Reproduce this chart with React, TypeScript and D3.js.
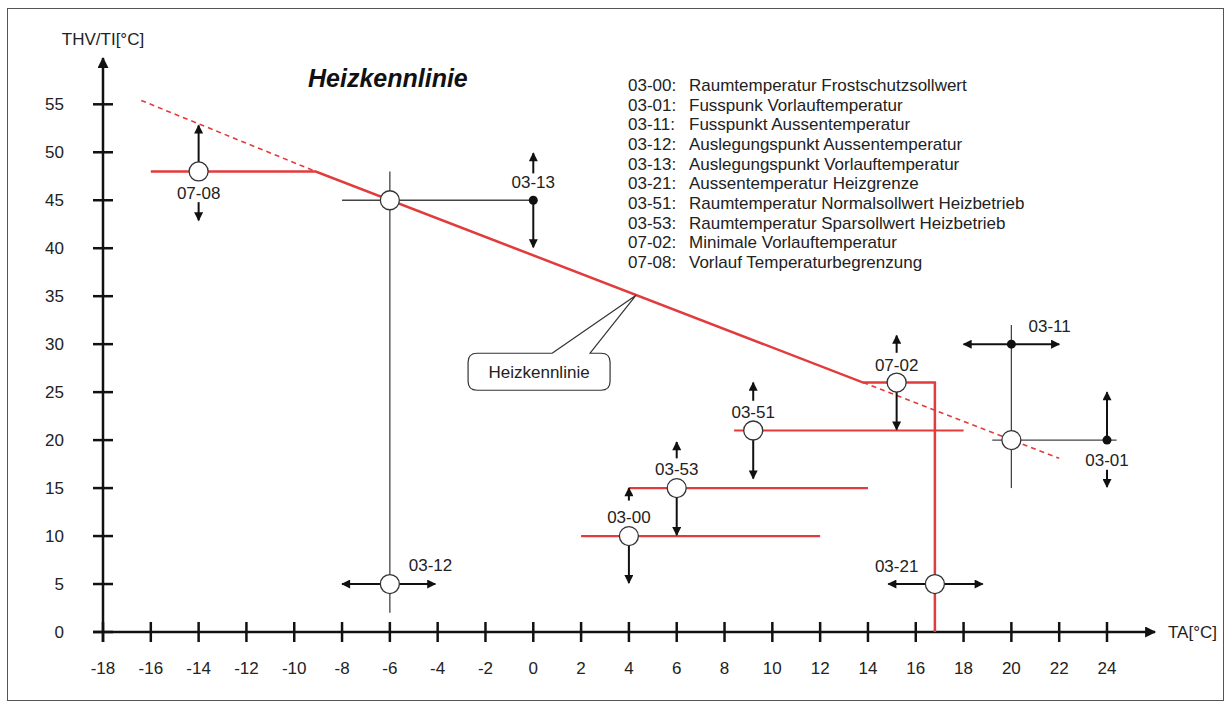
import React from 'react';
import * as d3 from 'd3';

// axis ticks
const xTicks = d3.range(-18, 25, 2);
const yTicks = d3.range(0, 56, 5);

// legend
const legendCodes = ['03-00:', '03-01:', '03-11:', '03-12:', '03-13:', '03-21:', '03-51:', '03-53:', '07-02:', '07-08:'];
const legendTexts = [
    'Raumtemperatur Frostschutzsollwert',
    'Fusspunk Vorlauftemperatur',
    'Fusspunkt Aussentemperatur',
    'Auslegungspunkt Aussentemperatur',
    'Auslegungspunkt Vorlauftemperatur',
    'Aussentemperatur Heizgrenze',
    'Raumtemperatur Normalsollwert Heizbetrieb',
    'Raumtemperatur Sparsollwert Heizbetrieb',
    'Minimale Vorlauftemperatur',
    'Vorlauf Temperaturbegrenzung',
];

// heating curve (TA, THV)
const curveTA = [-16, -9.1, 13.8, 16.8, 16.8];
const curveT = [48, 48, 26, 26, 0];
const dashUpperTA = [-16.4, -9.1];
const dashUpperT = [55.4, 48];
const dashLowerTA = [13.8, 22];
const dashLowerT = [26, 18.1];

// room setpoint lines: [fromTA, toTA, T]
const setpointLines = [
    [8.4, 18, 21],
    [4, 14, 15],
    [2, 12, 10],
];

// thin crosshair lines [ta1, t1, ta2, t2]
const guideLines = [
    [-8, 45, 0, 45],
    [-6, 48, -6, 2],
    [20, 32, 20, 15],
    [19.2, 20, 24.4, 20],
];

// open circles
const circleTA = [-14, -6, -6, 4, 6, 9.2, 15.2, 16.8, 20];
const circleT = [48, 45, 5, 10, 15, 21, 26, 5, 20];

// filled dots
const dotTA = [0, 20, 24];
const dotT = [45, 30, 20];

// arrows [ta1, t1, ta2, t2]
const arrows = [
    [-14, 48, -14, 52.8],
    [-14, 44.8, -14, 42.9],
    [0, 47.8, 0, 49.9],
    [0, 45, 0, 40.1],
    [-6, 5, -8, 5],
    [-6, 5, -4.1, 5],
    [4, 13.7, 4, 15],
    [4, 10, 4, 5.1],
    [6, 18.1, 6, 19.8],
    [6, 15, 6, 10.1],
    [9.2, 24.1, 9.2, 26],
    [9.2, 21, 9.2, 16],
    [15.2, 29.1, 15.2, 30.9],
    [15.2, 26, 15.2, 21.1],
    [16.8, 5, 14.85, 5],
    [16.8, 5, 18.8, 5],
    [20, 30, 18, 30],
    [20, 30, 22, 30],
    [24, 20, 24, 25],
    [24, 16.9, 24, 15.1],
];

// parameter labels
const labelNames = ['07-08', '03-13', '03-12', '03-00', '03-53', '03-51', '07-02', '03-21', '03-11', '03-01'];
const labelTA = [-14, 0, -4.3, 4, 6, 9.2, 15.2, 15.2, 21.6, 24];
const labelT = [45.75, 46.9, 7.0, 12.0, 17.0, 22.9, 27.8, 6.9, 31.9, 17.9];

// callout tip on the curve
const calloutTA = 4.3;
const calloutT = 35.1;

const RED = '#e23b3b';
const FONT = '"Liberation Sans", Arial, sans-serif';

const App = () => {
    const width = 1232;
    const height = 707;

    const x = d3.scaleLinear().domain([-18, 24]).range([103, 1107]);
    const y = d3.scaleLinear().domain([0, 55]).range([632, 104.3]);

    const line = d3
        .line<number>()
        .x((d) => x(d));

    const pathOf = (tas: number[], ts: number[]) =>
        d3
            .line<number>()
            .x((_, i) => x(tas[i]))
            .y((_, i) => y(ts[i]))(tas) || '';

    const x0 = x(-18);
    const y0 = y(0);

    const tipX = x(calloutTA);
    const tipY = y(calloutT);
    const bx = tipX - 168;
    const by = tipY + 58;
    const bw = 142;
    const bh = 37;
    const r = 9;
    const callout = `M ${tipX - 84} ${by} L ${bx + r} ${by} Q ${bx} ${by} ${bx} ${by + r}
        L ${bx} ${bh + by - r} Q ${bx} ${by + bh} ${bx + r} ${by + bh}
        L ${bx + bw - r} ${by + bh} Q ${bx + bw} ${by + bh} ${bx + bw} ${by + bh - r}
        L ${bx + bw} ${by + r} Q ${bx + bw} ${by} ${bx + bw - r} ${by}
        L ${tipX - 46} ${by} L ${tipX} ${tipY} L ${tipX - 84} ${by}`;

    return (
        <svg width={width} height={height} style={{ position: 'absolute', left: 0, top: 0, background: '#fff' }} fontFamily={FONT}>
            <defs>
                <marker id="ah" viewBox="0 0 10 10" refX="9" refY="5" markerWidth="10" markerHeight="9" markerUnits="userSpaceOnUse" orient="auto">
                    <path d="M0,0 L10,5 L0,10 Z" fill="#111" />
                </marker>
                <marker id="axh" viewBox="0 0 10 10" refX="9" refY="5" markerWidth="13" markerHeight="11" markerUnits="userSpaceOnUse" orient="auto">
                    <path d="M0,0 L10,5 L0,10 Z" fill="#111" />
                </marker>
            </defs>

            <rect x={7.5} y={8.5} width={1216} height={692} fill="#fff" stroke="#555" strokeWidth={1} />

            {/* title */}
            <text x={308} y={87} fontSize={25} fontWeight="bold" fontStyle="italic" fill="#111">
                Heizkennlinie
            </text>

            {/* legend */}
            {legendCodes.map((c, i) => (
                <g key={c} fontSize={17} fill="#222">
                    <text x={628} y={85 + i * 19.67} dy="0.35em">
                        {c}
                    </text>
                    <text x={689} y={85 + i * 19.67} dy="0.35em">
                        {legendTexts[i]}
                    </text>
                </g>
            ))}

            {/* axes */}
            <line x1={x0} y1={y0 + 10} x2={x0} y2={58} stroke="#111" strokeWidth={2.5} markerEnd="url(#axh)" />
            <line x1={x0 - 10} y1={y0} x2={1155} y2={y0} stroke="#111" strokeWidth={2.5} markerEnd="url(#axh)" />
            {yTicks.map((t) => (
                <g key={'y' + t}>
                    <line x1={x0 - 10} x2={x0 + 10} y1={y(t)} y2={y(t)} stroke="#111" strokeWidth={2.5} />
                    <text x={64} y={y(t)} dy="0.35em" textAnchor="end" fontSize={17} fill="#222">
                        {t}
                    </text>
                </g>
            ))}
            {xTicks.map((t) => (
                <g key={'x' + t}>
                    <line x1={x(t)} x2={x(t)} y1={y0 - 10} y2={y0 + 10} stroke="#111" strokeWidth={2.5} />
                    <text x={x(t)} y={668} dy="0.35em" textAnchor="middle" fontSize={17} fill="#222">
                        {t}
                    </text>
                </g>
            ))}
            <text x={x0} y={39} dy="0.35em" textAnchor="middle" fontSize={17} fill="#222">
                THV/TI[°C]
            </text>
            <text x={1168} y={y0} dy="0.35em" fontSize={17} fill="#222">
                TA[°C]
            </text>

            {/* thin guide lines */}
            {guideLines.map((g, i) => (
                <line key={'g' + i} x1={x(g[0])} y1={y(g[1])} x2={x(g[2])} y2={y(g[3])} stroke="#444" strokeWidth={1.3} />
            ))}

            {/* heating curve */}
            <path d={pathOf(dashUpperTA, dashUpperT)} fill="none" stroke={RED} strokeWidth={1.6} strokeDasharray="5,4" />
            <path d={pathOf(dashLowerTA, dashLowerT)} fill="none" stroke={RED} strokeWidth={1.6} strokeDasharray="5,4" />
            {setpointLines.map((s, i) => (
                <line key={'s' + i} x1={x(s[0])} x2={x(s[1])} y1={y(s[2])} y2={y(s[2])} stroke={RED} strokeWidth={2.2} />
            ))}
            <path d={pathOf(curveTA, curveT)} fill="none" stroke={RED} strokeWidth={2.5} strokeLinejoin="miter" />

            {/* callout */}
            <path d={callout} fill="#fff" stroke="#333" strokeWidth={1.2} />
            <text x={bx + bw / 2} y={by + bh / 2} dy="0.35em" textAnchor="middle" fontSize={17} fill="#222">
                Heizkennlinie
            </text>

            {/* arrows */}
            {arrows.map((a, i) => (
                <line key={'a' + i} x1={x(a[0])} y1={y(a[1])} x2={x(a[2])} y2={y(a[3])} stroke="#111" strokeWidth={2} markerEnd="url(#ah)" />
            ))}

            {/* points */}
            {circleTA.map((ta, i) => (
                <circle key={'c' + i} cx={x(ta)} cy={y(circleT[i])} r={9.5} fill="#fff" stroke="#333" strokeWidth={1.3} />
            ))}
            {dotTA.map((ta, i) => (
                <circle key={'d' + i} cx={x(ta)} cy={y(dotT[i])} r={4.5} fill="#111" />
            ))}

            {/* labels */}
            {labelNames.map((n, i) => (
                <text key={'l' + i} x={x(labelTA[i])} y={y(labelT[i])} dy="0.35em" textAnchor="middle" fontSize={17} fill="#222">
                    {n}
                </text>
            ))}
        </svg>
    );
};

export default App;
